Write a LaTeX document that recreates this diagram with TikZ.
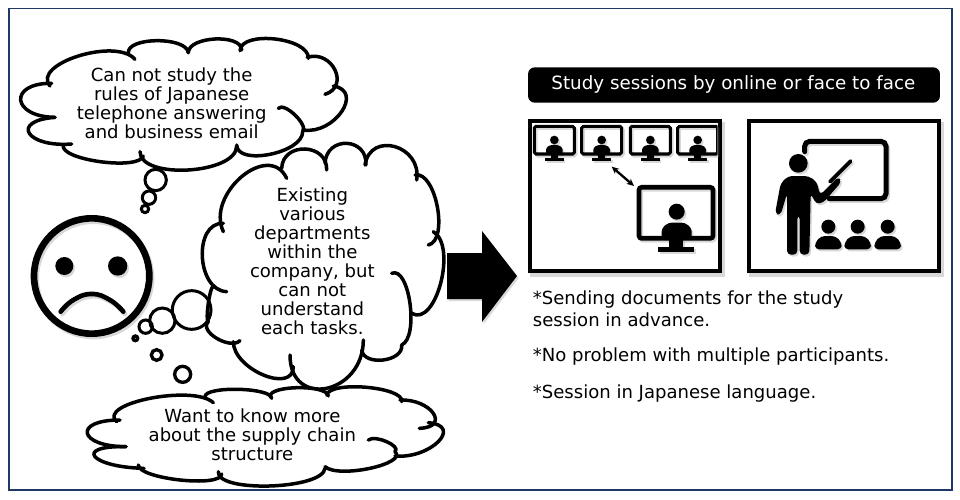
\documentclass[tikz,border=0pt]{standalone}
\usepackage{fontspec}
\usetikzlibrary{arrows.meta,calc}
\setmainfont{DejaVu Sans}
\tikzset{
  ink/.style={line width=.105cm,line cap=round,line join=round},
  bubble/.style={draw=black,line width=.09cm},
  saying/.style={align=center,font=\fontsize{15.4}{16.2}\selectfont,text=black,inner sep=0pt},
  noteline/.style={anchor=west,font=\fontsize{15.4}{16}\selectfont,inner sep=0pt},
  frame/.style={draw=black,line width=.12cm,fill=white},
  ghost/.style={opacity=.3}
}
\newcommand\lobefill[3]{\fill[white] (#1) .. controls ($(#1)+1.3333*(#2)-0.6667*(#1)-0.6667*(#3)$) and ($(#3)+1.3333*(#2)-0.6667*(#1)-0.6667*(#3)$) .. (#3) -- cycle;}
\newcommand\lobedraw[3]{\draw[ink] (#1) .. controls ($(#1)+1.3333*(#2)-0.6667*(#1)-0.6667*(#3)$) and ($(#3)+1.3333*(#2)-0.6667*(#1)-0.6667*(#3)$) .. (#3);}
\newcommand\cloudOne[1]{%
 #1{165,352}{62,300}{155,250}
 #1{150,258}{235,168}{405,178}
 #1{385,160}{470,122}{565,158}
 #1{565,158}{645,117}{725,150}
 #1{720,152}{825,117}{925,175}
 #1{922,172}{1005,210}{975,283}
 #1{1000,258}{1025,335}{910,390}
 #1{835,325}{885,345}{908,395}
 #1{908,395}{810,463}{710,435}
 #1{710,438}{565,510}{420,455}
 #1{430,468}{300,485}{190,435}
 #1{215,432}{88,400}{165,352}
}
\newcommand\cloudTwo[1]{%
 #1{670,695}{725,530}{860,535}
 #1{845,505}{915,447}{980,510}
 #1{975,490}{1040,430}{1098,495}
 #1{1095,495}{1185,440}{1250,540}
 #1{1245,525}{1312,620}{1285,735}
 #1{1300,695}{1322,850}{1235,940}
 #1{1175,820}{1230,910}{1205,1035}
 #1{1205,1035}{1150,1080}{1085,1050}
 #1{1090,1020}{980,1165}{870,1065}
 #1{880,1100}{790,1125}{700,1025}
 #1{720,1022}{650,1015}{625,965}
 #1{625,965}{625,910}{640,860}
 #1{680,875}{607,770}{670,670}
}
\newcommand\cloudThree[1]{%
 #1{378,590}{262,550}{360,510}
 #1{350,515}{450,445}{640,458}
 #1{615,440}{715,418}{815,445}
 #1{810,440}{895,413}{985,438}
 #1{980,435}{1100,412}{1205,455}
 #1{1200,450}{1300,490}{1258,535}
 #1{1285,518}{1315,575}{1185,618}
 #1{1105,570}{1160,575}{1185,605}
 #1{1185,605}{1110,655}{975,650}
 #1{975,655}{810,708}{655,665}
 #1{665,672}{540,690}{415,645}
 #1{432,655}{285,620}{378,590}
}
% face
\newcommand\faceArt{%
 \draw[line width=.2cm] (275,828) circle (173);
 \fill (193,798) circle (27);
 \fill (353,798) circle (29);
 \draw[line width=.14cm,line cap=round] plot[smooth,tension=.8] coordinates{(182,935)(220,900)(275,882)(330,900)(370,935)};
}
% small monitor centred on #1
\newcommand\smallMonitor[1]{%
 \begin{scope}[shift={(#1,0)}]
  \draw[line width=.09cm,rounded corners=.05cm] (-60,229) rectangle (60,312);
  \fill (0,270) circle (13);
  \fill[rounded corners=.07cm] (-25,313) -- (-25,293) -- (-12,285) -- (12,285) -- (25,293) -- (25,313) -- cycle;
  \fill (-10,313) rectangle (10,325);
  \fill (-28,323) rectangle (28,332);
 \end{scope}}
\newcommand\onlineArt{%
 \begin{scope}
  \clip (61,214) rectangle (623,664);
  \smallMonitor{133}\smallMonitor{275}\smallMonitor{421}\smallMonitor{563}
 \end{scope}
 \draw[line width=.14cm,rounded corners=.08cm] (387,412) rectangle (609,565);
 \fill (500,485) circle (24);
 \fill[rounded corners=.1cm] (455,566) -- (455,535) -- (475,518) -- (525,518) -- (545,535) -- (545,566) -- cycle;
 \fill (478,566) rectangle (520,595);
 \fill (445,590) rectangle (552,607);
}
\newcommand\classArt{%
 \draw[line width=.15cm,line cap=round,rounded corners=.15cm] (884,305) -- (884,274) -- (1128,274) -- (1128,446) -- (958,446);
 \fill (865,340) circle (28);
 \fill[rounded corners=.12cm] (795,492) -- (812,400) -- (835,378) -- (895,378) -- (920,395) -- (930,435) -- (985,380) -- (995,395) -- (940,458) -- (918,462) -- (902,430) -- (898,614) -- (869,614) -- (869,495) -- (862,495) -- (862,614) -- (831,614) -- (831,430) -- (812,495) -- cycle;
 \draw[line width=.11cm,line cap=round] (960,395) -- (1022,333);
 \foreach \cx in {955,1043,1133}{
  \fill (\cx,530) circle (21);
  \fill[rounded corners=.12cm] (\cx-40,598) -- (\cx-40,578) -- (\cx-22,558) -- (\cx+22,558) -- (\cx+40,578) -- (\cx+40,598) -- cycle;
 }
}
\begin{document}
\begin{tikzpicture}[x=.01cm,y=-.01cm]
\useasboundingbox (0,0) rectangle (2880,1500);
\fill[white] (0,0) rectangle (2880,1500);
\definecolor{edge}{RGB}{31,56,100}
\draw[draw=edge,line width=.05cm] (28,26) rectangle (2855,1470);

% top cloud
\cloudOne\lobefill
\fill[white] (165,352)--(150,250)--(405,178)--(925,175)--(975,283)--(910,390)--(860,450)--(420,455)--(215,432)--cycle;
\cloudOne\lobedraw
\draw[bubble] (467,540) circle (32);
\draw[bubble] (447,593) circle (20);
\draw[bubble] (435,627) circle (11);
\node[saying] (t1) at (515,310) {Can not study the\\rules of Japanese\\telephone answering\\and business email};

% face with soft shadow
\begin{scope}[shift={(5,7)},ghost,gray]\faceArt\end{scope}
\faceArt

% middle cloud
\cloudTwo\lobefill
\fill[white] (670,695)--(860,535)--(1250,540)--(1285,735)--(1235,940)--(1085,1055)--(870,1065)--(700,1025)--(640,860)--cycle;
\cloudTwo\lobedraw
\node[saying] (t2) at (937,785) {Existing\\various\\departments\\within the\\company, but\\can not\\understand\\each tasks.};
\draw[bubble] (575,930) circle (58);
\draw[bubble] (487,962) circle (38);
\draw[bubble] (437,980) circle (20);
\draw[bubble,line width=.1cm] (406,1015) circle (7);
\draw[bubble,line width=.1cm] (470,1065) circle (16);
\draw[bubble,line width=.1cm] (548,1123) circle (24);

% bottom cloud
\begin{scope}[shift={(0,750)}]
\cloudThree\lobefill
\fill[white] (378,590)--(360,510)--(640,458)--(1205,455)--(1258,535)--(1185,618)--(975,650)--(655,665)--(415,645)--cycle;
\cloudThree\lobedraw
\node[saying] (t3) at (757,555) {Want to know more\\about the supply chain\\structure};
\end{scope}

% big arrow
\fill[gray,ghost] (1346,765)--(1451,765)--(1451,699)--(1556,834)--(1451,972)--(1451,903)--(1346,903)--cycle;
\fill (1341,759)--(1446,759)--(1446,693)--(1551,828)--(1446,966)--(1446,897)--(1341,897)--cycle;

% right panel
\begin{scope}[shift={(1530,150)}]
\node[fill=black,rounded corners=.2cm,minimum width=12.35cm,minimum height=1.06cm,inner sep=0pt] (title) at (672,105) {};
\node[text=white,font=\fontsize{15.6}{17}\selectfont,inner sep=0pt] (titletext) at (670,103) {Study sessions by online or face to face};

\fill[gray,ghost] (61,216) rectangle (645,680);
\fill[gray,ghost] (718,216) rectangle (1302,680);
\draw[frame] (61,214) rectangle (629,664);
\draw[frame] (718,214) rectangle (1286,664);
\begin{scope}[shift={(5,6)},ghost,gray]\onlineArt\classArt\end{scope}
\onlineArt
\classArt
\coordinate (da) at (305,350);
\coordinate (db) at (372,408);
\draw[{Stealth[length=.22cm,width=.2cm]}-{Stealth[length=.22cm,width=.2cm]},line width=.07cm] (da) -- (db);
\end{scope}

\node[noteline] (n1) at (1598,900) {*Sending documents for the study};
\node[noteline] (n2) at (1598,960) {session in advance.};
\node[noteline] (n3) at (1598,1071) {*No problem with multiple participants.};
\node[noteline] (n4) at (1598,1182) {*Session in Japanese language.};
\end{tikzpicture}
\end{document}
